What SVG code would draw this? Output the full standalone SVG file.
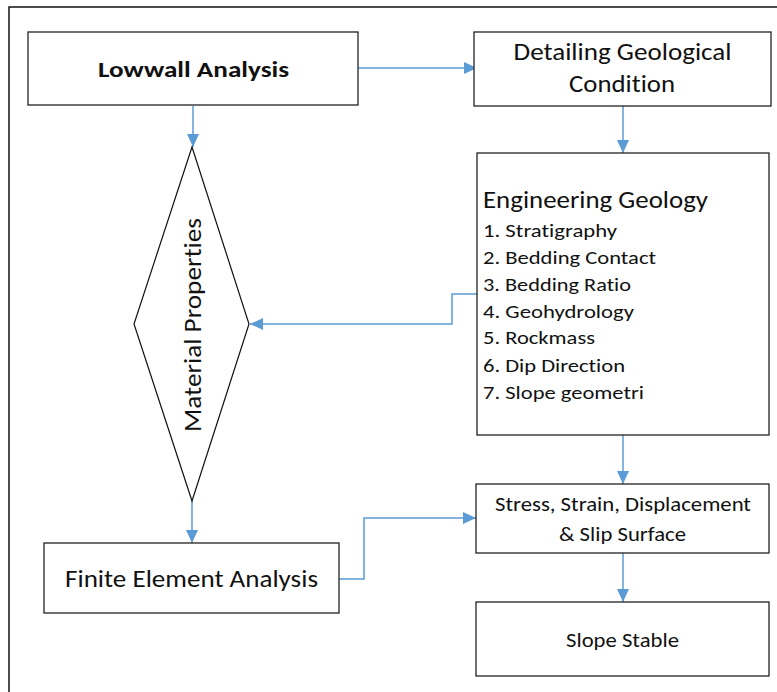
<svg xmlns="http://www.w3.org/2000/svg" width="777" height="692" viewBox="0 0 777 692">
<defs>
<marker id="ah" markerUnits="userSpaceOnUse" markerWidth="14" markerHeight="12" refX="13" refY="6" orient="auto">
<path d="M0,0 L13,6 L0,12 Z" fill="#5B9BD5"/>
</marker>
<style>
.box{fill:#fff;stroke:#222;stroke-width:1.3}
.t{font-family:Carlito,Lato,"Liberation Sans",sans-serif;fill:#111;font-variant-ligatures:none;font-feature-settings:"liga" 0,"clig" 0}
.c{fill:none;stroke:#5B9BD5;stroke-width:1.5;marker-end:url(#ah)}
</style>
</defs>
<rect width="777" height="692" fill="#fff"/>
<path d="M9,700 L9,7 L790,7" fill="none" stroke="#111" stroke-width="1.5"/>
<g id="connectors">
<path class="c" d="M358,68 L477,68"/>
<path class="c" d="M193,106 L193,147"/>
<path class="c" d="M623,106 L623,153"/>
<path class="c" d="M477,294 L452,294 L452,324 L250,324"/>
<path class="c" d="M192,501 L192,543"/>
<path class="c" d="M339,579 L364,579 L364,518 L476,518"/>
<path class="c" d="M623,435 L623,484"/>
<path class="c" d="M623,553 L623,602"/>
</g>
<g id="lowwall">
<rect class="box" x="28" y="32" width="330" height="73"/>
<text class="t" x="193.5" y="77" text-anchor="middle" font-size="23" font-weight="bold" textLength="191" lengthAdjust="spacingAndGlyphs">Lowwall Analysis</text>
</g>
<g id="detailing">
<rect class="box" x="474" y="32" width="297" height="74"/>
<text class="t" x="622.5" y="60" text-anchor="middle" font-size="24" textLength="218" lengthAdjust="spacingAndGlyphs">Detailing Geological</text>
<text class="t" x="622" y="92" text-anchor="middle" font-size="24" textLength="106" lengthAdjust="spacingAndGlyphs">Condition</text>
</g>
<g id="material">
<polygon points="192,147 249,324 192,501 134,324" fill="#fff" stroke="#111" stroke-width="1.2"/>
<text class="t" transform="translate(201,325) rotate(-90)" text-anchor="middle" font-size="25" textLength="214" lengthAdjust="spacingAndGlyphs">Material Properties</text>
</g>
<g id="engineering">
<rect class="box" x="477" y="153" width="292" height="282"/>
<text class="t" x="483" y="208" font-size="24" textLength="225" lengthAdjust="spacingAndGlyphs">Engineering Geology</text>
<g class="t" font-size="19">
<text x="483" y="237" textLength="134" lengthAdjust="spacingAndGlyphs">1. Stratigraphy</text>
<text x="483" y="264" textLength="173" lengthAdjust="spacingAndGlyphs">2. Bedding Contact</text>
<text x="483" y="291" textLength="148" lengthAdjust="spacingAndGlyphs">3. Bedding Ratio</text>
<text x="483" y="318" textLength="151" lengthAdjust="spacingAndGlyphs">4. Geohydrology</text>
<text x="483" y="344" textLength="112" lengthAdjust="spacingAndGlyphs">5. Rockmass</text>
<text x="483" y="372" textLength="142" lengthAdjust="spacingAndGlyphs">6. Dip Direction</text>
<text x="483" y="399" textLength="161" lengthAdjust="spacingAndGlyphs">7. Slope geometri</text>
</g>
</g>
<g id="fea">
<rect class="box" x="44" y="543" width="295" height="70"/>
<text class="t" x="191.5" y="587" text-anchor="middle" font-size="24" textLength="253" lengthAdjust="spacingAndGlyphs">Finite Element Analysis</text>
</g>
<g id="stress">
<rect class="box" x="476" y="484" width="293" height="69"/>
<text class="t" x="623" y="511" text-anchor="middle" font-size="20" textLength="256" lengthAdjust="spacingAndGlyphs">Stress, Strain, Displacement</text>
<text class="t" x="622.5" y="541" text-anchor="middle" font-size="20" textLength="127" lengthAdjust="spacingAndGlyphs">&amp; Slip Surface</text>
</g>
<g id="slope">
<rect class="box" x="476" y="602" width="293" height="74"/>
<text class="t" x="622.5" y="647" text-anchor="middle" font-size="20" textLength="113" lengthAdjust="spacingAndGlyphs">Slope Stable</text>
</g>
</svg>
